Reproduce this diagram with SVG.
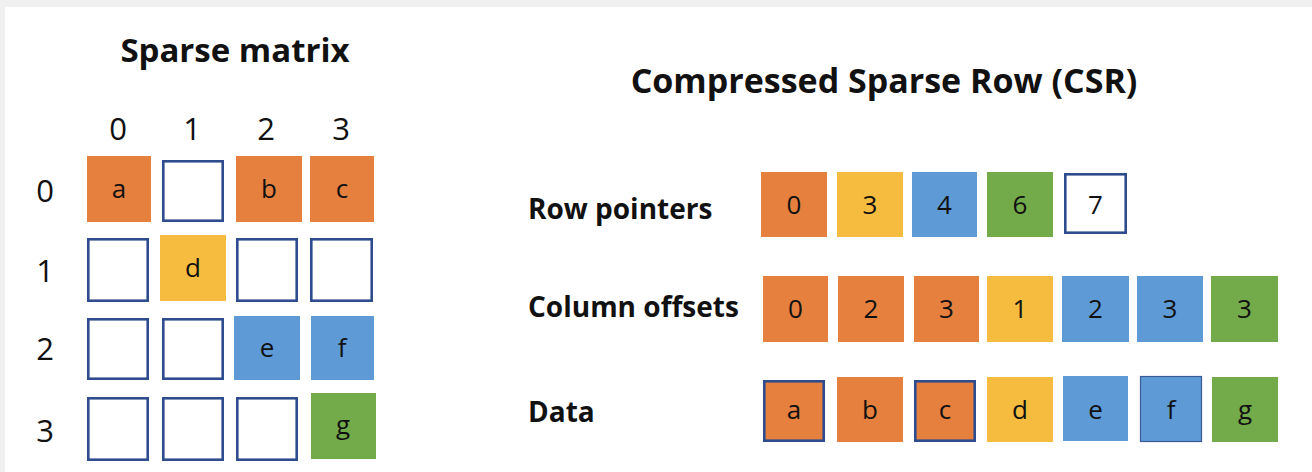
<svg xmlns="http://www.w3.org/2000/svg" width="1312" height="472" viewBox="0 0 1312 472">
<style>
.t{font-family:"Open Sans","Liberation Sans",sans-serif;fill:#111}
.b{font-weight:700}
.ax{font-size:31px;text-anchor:middle}
.c{font-size:26px;text-anchor:middle}
.lb{font-size:28px;font-weight:700}
.o{fill:#E5803F}
.y{fill:#F5BC3F}
.bl{fill:#5E9BD6}
.g{fill:#73AA4A}
.e{fill:#fff;stroke:#2F4D8E;stroke-width:2.6}
.ol{stroke:#2F4D8E;stroke-width:2.6}
</style>
<rect width="1312" height="472" fill="#f0f0f0"/>
<rect x="5" y="7" width="1307" height="465" fill="#fff"/>

<g id="matrix">
<text class="t b" x="235" y="62" font-size="33" text-anchor="middle">Sparse matrix</text>
<g id="col-headers" class="t ax">
<text x="118" y="140">0</text><text x="192" y="140">1</text><text x="266" y="140">2</text><text x="341" y="140">3</text>
</g>
<g id="row-headers" class="t ax">
<text x="45" y="202">0</text><text x="45" y="282">1</text><text x="45" y="360">2</text><text x="45" y="442">3</text>
</g>
<g id="m-row0">
<rect class="o" x="87" y="156" width="64" height="66"/><text class="t c" x="119" y="198">a</text>
<rect class="e" x="163.3" y="161.3" width="59.4" height="59.4"/>
<rect class="o" x="236" y="156" width="66" height="66"/><text class="t c" x="269" y="198">b</text>
<rect class="o" x="310" y="156" width="64" height="66"/><text class="t c" x="342" y="198">c</text>
</g>
<g id="m-row1">
<rect class="e" x="88.3" y="239.3" width="59.4" height="61.4"/>
<rect class="y" x="160" y="235" width="66" height="66"/><text class="t c" x="193" y="277">d</text>
<rect class="e" x="237.3" y="239.3" width="59.4" height="61.4"/>
<rect class="e" x="311.3" y="239.3" width="60.4" height="61.4"/>
</g>
<g id="m-row2">
<rect class="e" x="88.3" y="319.3" width="59.4" height="59.4"/>
<rect class="e" x="163.3" y="319.3" width="59.4" height="59.4"/>
<rect class="bl" x="234" y="316" width="66" height="64"/><text class="t c" x="267" y="357">e</text>
<rect class="bl" x="311" y="316" width="63" height="64"/><text class="t c" x="342" y="357">f</text>
</g>
<g id="m-row3">
<rect class="e" x="88.3" y="398.3" width="59.4" height="61.4"/>
<rect class="e" x="163.3" y="398.3" width="59.4" height="61.4"/>
<rect class="e" x="237.3" y="398.3" width="59.4" height="61.4"/>
<rect class="g" x="311" y="393" width="65" height="66"/><text class="t c" x="343" y="434">g</text>
</g>
</g>

<g id="csr">
<text class="t b" x="884" y="93" font-size="34" text-anchor="middle">Compressed Sparse Row (CSR)</text>
<g id="row-pointers">
<text class="t lb" x="528" y="219">Row pointers</text>
<rect class="o" x="761" y="172" width="66" height="65"/><text class="t c" x="794" y="214">0</text>
<rect class="y" x="837" y="172" width="66" height="65"/><text class="t c" x="870" y="214">3</text>
<rect class="bl" x="912" y="172" width="65" height="65"/><text class="t c" x="944.5" y="214">4</text>
<rect class="g" x="987" y="172" width="66" height="65"/><text class="t c" x="1020" y="214">6</text>
<rect class="e" x="1065.3" y="174.3" width="60.4" height="58.4"/><text class="t c" x="1095.5" y="214">7</text>
</g>
<g id="column-offsets">
<text class="t lb" x="528" y="317">Column offsets</text>
<rect class="o" x="763" y="276" width="65" height="66"/><text class="t c" x="795.5" y="318">0</text>
<rect class="o" x="838" y="276" width="66" height="66"/><text class="t c" x="871" y="318">2</text>
<rect class="o" x="914" y="276" width="65" height="66"/><text class="t c" x="946.5" y="318">3</text>
<rect class="y" x="987" y="276" width="66" height="66"/><text class="t c" x="1020" y="318">1</text>
<rect class="bl" x="1062" y="276" width="67" height="66"/><text class="t c" x="1095.5" y="318">2</text>
<rect class="bl" x="1137" y="276" width="66" height="66"/><text class="t c" x="1170" y="318">3</text>
<rect class="g" x="1211" y="276" width="67" height="66"/><text class="t c" x="1244.5" y="318">3</text>
</g>
<g id="data">
<text class="t lb" x="528" y="422">Data</text>
<rect class="o ol" x="764.3" y="381.3" width="59.4" height="59.4"/><text class="t c" x="794" y="419">a</text>
<rect class="o" x="837" y="377" width="66" height="65"/><text class="t c" x="870" y="419">b</text>
<rect class="o ol" x="915.3" y="381.3" width="59.4" height="59.4"/><text class="t c" x="945" y="419">c</text>
<rect class="y" x="987" y="377" width="66" height="65"/><text class="t c" x="1020" y="419">d</text>
<rect class="bl" x="1063" y="376" width="65" height="65"/><text class="t c" x="1095.5" y="419">e</text>
<rect class="bl" x="1140.5" y="376.5" width="61" height="65" stroke="#3A5A95" stroke-width="1.2"/><text class="t c" x="1171" y="419">f</text>
<rect class="g" x="1212" y="377" width="66" height="65"/><text class="t c" x="1245" y="419">g</text>
</g>
</g>
</svg>
